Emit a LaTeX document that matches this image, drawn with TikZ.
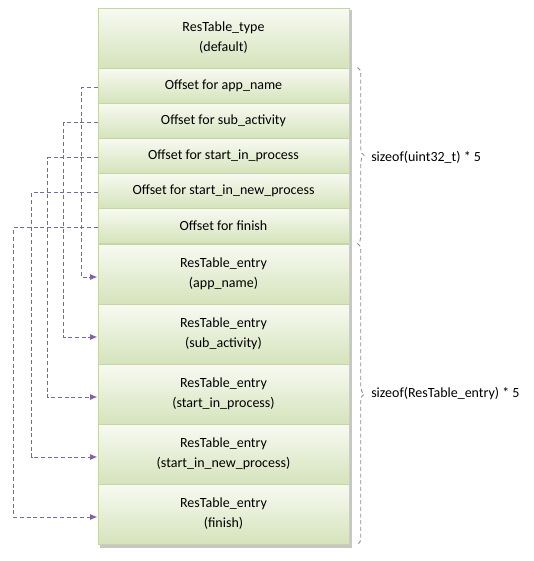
\documentclass[tikz,border=0pt]{standalone}
\usepackage{fontspec}
\setmainfont{Carlito}
\usetikzlibrary{arrows.meta,calc,decorations.pathreplacing}
\definecolor{cellbot}{HTML}{D5E3BC}
\definecolor{celltop}{HTML}{F8FAF2}
\definecolor{cellline}{HTML}{C5D6A3}
\definecolor{linkcol}{HTML}{8064A2}
\definecolor{bracecol}{HTML}{8A8A9A}
\tikzset{
  cell/.style={draw=cellline, line width=0.75pt, top color=celltop, bottom color=cellbot,
    minimum width=188.25pt, inner sep=0pt, align=center, font=\fontsize{10.5}{15}\selectfont},
  cellA/.style={cell, minimum height=26.25pt},
  cellB/.style={cell, minimum height=45pt},
  conn/.style={draw=linkcol, line width=0.75pt, dash pattern=on 3pt off 2pt,
    -{Latex[length=5.5pt,width=4.5pt]}},
  bracestyle/.style={draw=bracecol, line width=0.6pt, dash pattern=on 3pt off 2pt,
    decorate, decoration={brace, amplitude=5pt}},
  lbl/.style={anchor=west, inner sep=0pt, font=\fontsize{10.5}{13}\selectfont}
}
\begin{document}
\begin{tikzpicture}[x=0.75pt,y=-0.75pt]
\useasboundingbox (0,0) rectangle (533,561);
% shadow
\fill[gray!45] (100,10) rectangle (351.5,547.5);
% header
\node[cell, minimum height=45pt] (hd) at (223.5,38) {ResTable\_type\\(default)};
% offsets
\node[cellA] (o1) at (223.5,85.5) {Offset for app\_name};
\node[cellA] (o2) at (223.5,120.5) {Offset for sub\_activity};
\node[cellA] (o3) at (223.5,155.5) {Offset for start\_in\_process};
\node[cellA] (o4) at (223.5,190.5) {Offset for start\_in\_new\_process};
\node[cellA] (o5) at (223.5,225.5) {Offset for finish};
% entries
\node[cellB] (e1) at (223.5,274) {ResTable\_entry\\(app\_name)};
\node[cellB] (e2) at (223.5,334) {ResTable\_entry\\(sub\_activity)};
\node[cellB] (e3) at (223.5,394) {ResTable\_entry\\(start\_in\_process)};
\node[cellB] (e4) at (223.5,454) {ResTable\_entry\\(start\_in\_new\_process)};
\node[cellB] (e5) at (223.5,514) {ResTable\_entry\\(finish)};
% connectors
\draw[conn] ($(o1.west)+(0,2)$) -- ++(-16,0) |- ($(e1.west)+(0,3)$);
\draw[conn] ($(o2.west)+(0,2)$) -- ++(-34,0) |- ($(e2.west)+(0,3)$);
\draw[conn] ($(o3.west)+(0,2)$) -- ++(-50,0) |- ($(e3.west)+(0,3)$);
\draw[conn] ($(o4.west)+(0,2)$) -- ++(-66,0) |- ($(e4.west)+(0,3)$);
\draw[conn] ($(o5.west)+(0,2)$) -- ++(-84,0) |- ($(e5.west)+(0,3)$);
% braces
\coordinate (b1t) at ($(o1.north east)+(8,0)$);
\coordinate (b1b) at ($(o5.south east)+(8,0)$);
\coordinate (b2t) at ($(e1.north east)+(8,0)$);
\coordinate (b2b) at ($(e5.south east)+(8,0)$);
\draw[bracestyle] (b1t) -- (b1b);
\draw[bracestyle] (b2t) -- (b2b);
\node[lbl] (l1) at (371,157) {sizeof(uint32\_t) * 5};
\node[lbl] (l2) at (371,394) {sizeof(ResTable\_entry) * 5};
\end{tikzpicture}
\end{document}
